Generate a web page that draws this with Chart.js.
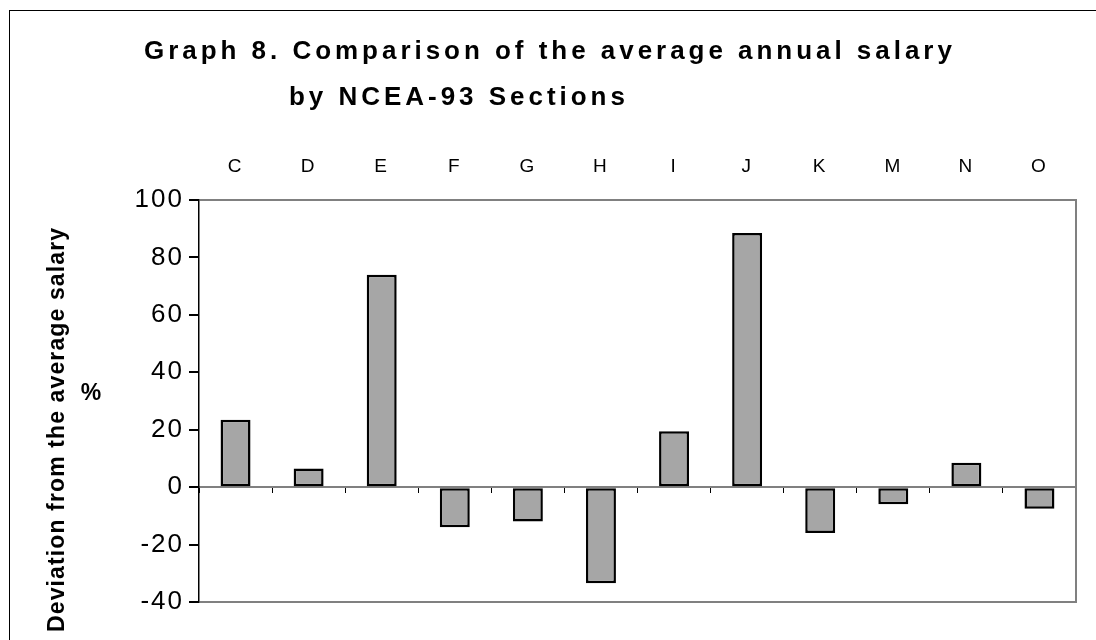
<!DOCTYPE html>
<html>
<head>
<meta charset="utf-8">
<script src="https://cdn.jsdelivr.net/npm/chart.js@4/dist/chart.umd.min.js"></script>
<style>
  html, body { margin: 0; padding: 0; background: #ffffff; overflow: hidden; }
  #wrap { width: 1096px; height: 640px; position: relative; }
</style>
</head>
<body>
<div id="wrap"><canvas id="c" width="1096" height="640"></canvas></div>
<script>
// ---- data ----
const categories = ['C', 'D', 'E', 'F', 'G', 'H', 'I', 'J', 'K', 'M', 'N', 'O'];
const deviation = [23.5, 6.5, 74, -14, -12, -33.5, 19.5, 88.5, -16, -6, 8.5, -7.5];
const yMin = -40;
const yMax = 100;
const yStep = 20;
const titleLines = ['Graph 8. Comparison of the average annual salary', 'by NCEA-93 Sections'];
const yTitleLines = ['Deviation from the average salary', '%'];

const FONT = "'Liberation Sans', Arial, Helvetica, sans-serif";

function spacingFor(ctx, text, font, target) {
  ctx.save();
  ctx.letterSpacing = '0px';
  ctx.font = font;
  const w = ctx.measureText(text).width;
  ctx.restore();
  return (target - w) / (text.length - 1);
}

const decorPlugin = {
  id: 'decor',
  beforeDraw(chart) {
    const ctx = chart.ctx;
    ctx.save();
    ctx.fillStyle = '#ffffff';
    ctx.fillRect(0, 0, chart.width, chart.height);
    ctx.strokeStyle = '#000000';
    ctx.lineWidth = 1;
    ctx.strokeRect(9.5, 10.5, 1300, 1000);
    ctx.restore();
    ctx.letterSpacing = '2px';
  },
  afterDraw(chart) {
    const ctx = chart.ctx;
    ctx.letterSpacing = '0px';
    // title
    const tFont = 'bold 26px ' + FONT;
    const s = spacingFor(ctx, titleLines[0], tFont, 808);
    ctx.save();
    ctx.font = tFont;
    ctx.fillStyle = '#000';
    ctx.textAlign = 'left';
    ctx.textBaseline = 'alphabetic';
    ctx.letterSpacing = s.toFixed(2) + 'px';
    ctx.fillText(titleLines[0], 144, 59);
    ctx.fillText(titleLines[1], 289, 105);
    ctx.restore();
    // y axis title (rotated)
    const yFont = 'bold 23px ' + FONT;
    const s2 = Math.max(0, spacingFor(ctx, yTitleLines[0], yFont, 404));
    ctx.save();
    ctx.font = yFont;
    ctx.fillStyle = '#000';
    ctx.letterSpacing = s2.toFixed(2) + 'px';
    ctx.translate(58, 632);
    ctx.rotate(-Math.PI / 2);
    ctx.textAlign = 'left';
    ctx.textBaseline = 'middle';
    ctx.fillText(yTitleLines[0], 0, 0);
    ctx.restore();
    ctx.save();
    ctx.font = yFont;
    ctx.fillStyle = '#000';
    ctx.textAlign = 'center';
    ctx.textBaseline = 'middle';
    ctx.fillText(yTitleLines[1], 91, 394);
    ctx.restore();
  }
};

const edgeValues = [yMin, 0, yMax];

new Chart(document.getElementById('c'), {
  type: 'bar',
  data: {
    labels: categories,
    datasets: [{
      data: deviation,
      xAxisID: 'x',
      yAxisID: 'y',
      backgroundColor: '#a6a6a6',
      borderColor: '#000000',
      borderWidth: 2.5,
      borderSkipped: false,
      barPercentage: 0.41,
      categoryPercentage: 1.0
    }]
  },
  options: {
    responsive: false,
    animation: false,
    events: [],
    layout: { padding: { left: 0, top: 0, right: 20, bottom: 38 } },
    plugins: { legend: { display: false }, tooltip: { enabled: false }, title: { display: false } },
    scales: {
      x: {
        type: 'category',
        position: 'top',
        offset: true,
        grid: { display: false, drawTicks: false, offset: true },
        border: { display: false },
        ticks: { color: '#000', font: { family: FONT, size: 19 }, padding: 22, maxRotation: 0, autoSkip: false },
        afterFit(scale) { scale.height = 200; }
      },
      x2: {
        type: 'category',
        axis: 'x',
        position: { y: 0 },
        offset: true,
        grid: { display: true, offset: true, drawOnChartArea: false, drawTicks: true, tickLength: 5, tickColor: '#000', tickWidth: 1 },
        border: { display: true, color: '#808080', width: 2 },
        ticks: { display: false }
      },
      y: {
        type: 'linear',
        position: 'left',
        min: yMin,
        max: yMax,
        ticks: { stepSize: yStep, color: '#000', font: { family: FONT, size: 26 }, padding: 5 },
        grid: {
          drawOnChartArea: true,
          drawTicks: true,
          tickLength: 10,
          tickColor: '#000',
          color: (c) => (c.tick && edgeValues.includes(c.tick.value)) ? '#808080' : 'rgba(0,0,0,0)',
          lineWidth: 2
        },
        border: { display: true, color: '#000', width: 1.5 },
        afterFit(scale) { scale.width = 199; }
      },
      y2: {
        type: 'linear',
        position: 'right',
        min: yMin,
        max: yMax,
        grid: { display: false },
        ticks: { display: false },
        border: { display: true, color: '#808080', width: 2 },
        afterFit(scale) { scale.width = 0; }
      }
    }
  },
  plugins: [decorPlugin]
});
</script>
</body>
</html>
